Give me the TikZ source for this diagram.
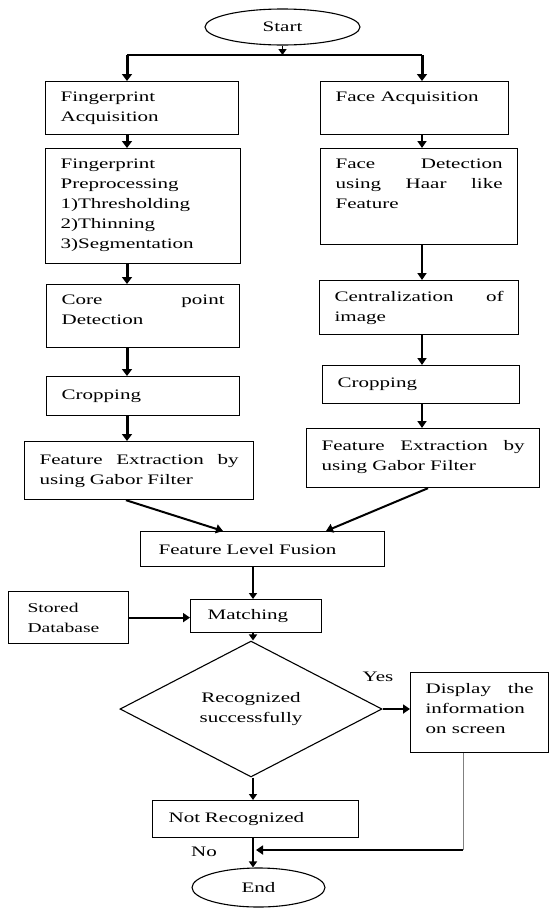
\documentclass[tikz,border=0pt]{standalone}
\usepackage{fontspec}
\setmainfont{Liberation Serif}[FakeStretch=1.45]
\usetikzlibrary{arrows.meta,shapes.geometric,calc}
\newcommand\tbx[3]{\parbox[c][\dimexpr #2pt-20pt\relax][t]{\dimexpr #1pt-30pt\relax}{#3}}
\begin{document}
\begin{tikzpicture}[x=1pt,y=-1pt,
  txt/.style={font=\fontsize{14.5}{20}\selectfont},
  tbox/.style={txt, draw, line width=1.2pt, anchor=north west, inner xsep=15pt, inner ysep=10pt},
  cbox/.style={txt, draw, line width=1.2pt, anchor=north west, inner xsep=15pt, inner ysep=0pt, align=left},
  oval/.style={txt, draw, ellipse, line width=1.1pt, inner sep=0pt},
  bigarr/.style={line width=3pt, -{Triangle[width=10pt,length=7pt]}},
  midarr/.style={line width=2pt, -{Triangle[width=9pt,length=7pt]}},
  smallarr/.style={line width=1.5pt, -{Triangle[width=8pt,length=6pt]}},
  lbl/.style={txt, inner sep=0pt}]
\useasboundingbox (0,0) rectangle (550,908);

% start
\node[oval, minimum width=155pt, minimum height=36pt] (start) at (282.5,27) {Start};
\coordinate (J) at (282.5,55);
\coordinate (JL) at (127,55);
\coordinate (JR) at (422,55);

% left column
\node[tbox] (fa) at (45,81) {\tbx{193}{53}{Fingerprint\\Acquisition}};
\node[tbox] (fp) at (45,148) {\tbx{195}{115}{Fingerprint\\Preprocessing\\1)Thresholding\\2)Thinning\\3)Segmentation}};
\node[tbox] (cp) at (46,284) {\tbx{193}{63}{Core\hfill point\\Detection}};
\node[cbox, text width=163pt, minimum height=39pt] (crl) at (46,376) {Cropping};
\node[cbox, text width=199pt, minimum height=58pt] (fel) at (24,441) {Feature\hfill Extraction\hfill by\\using Gabor Filter};

% right column
\node[tbox] (faa) at (320,81) {\tbx{188}{53}{Face Acquisition}};
\node[tbox] (fd) at (320,148) {\tbx{197}{96}{Face\hfill Detection\\using\hfill Haar\hfill like\\Feature}};
\node[tbox, inner ysep=11pt] (ci) at (319,280) {\tbx{199}{52}{Centralization\hfill of\\image}};
\node[cbox, text width=167pt, minimum height=38pt] (crr) at (322,365) {Cropping};
\node[tbox, inner ysep=12pt] (fer) at (306,428) {\tbx{233}{55}{Feature\hfill Extraction\hfill by\\using Gabor Filter}};

% fusion and matching
\node[cbox, inner xsep=18pt, text width=208pt, minimum height=35pt] (fus) at (140,531) {Feature Level Fusion};
\node[cbox, inner xsep=17pt, text width=97pt, minimum height=33pt] (mat) at (190,599) {Matching};
\node[cbox, inner xsep=19pt, text width=82pt, minimum height=52pt, font=\fontsize{13.5}{20}\selectfont] (db) at (8,591) {Stored\\Database};

% decision
\node[txt, draw, diamond, line width=1.1pt, minimum width=262pt, minimum height=102pt, inner sep=0pt, align=center] (dec) at (251,709) {Recognized\\successfully};
\node[tbox, inner ysep=11pt] (disp) at (410,672) {\tbx{138}{78}{Display\hfill the\\information\\on screen}};
\node[cbox, inner xsep=16pt, text width=174pt, minimum height=37pt] (nr) at (152,800) {Not Recognized};
\node[oval, minimum width=133pt, minimum height=39pt] (end) at (258.5,887.5) {End};

\node[lbl] (yes) at (378,677) {Yes};
\node[lbl] (no) at (204,852) {No};

% connectors
\draw[smallarr] (start.south -| J) -- (J);
\draw[line width=2pt] (JL) -- (JR);
\draw[bigarr] (JL) -- (JL |- fa.north);
\draw[bigarr] (JR) -- (JR |- faa.north);

\draw[bigarr] (fa.south -| JL) -- (fp.north -| JL);
\draw[bigarr] (fp.south -| JL) -- (cp.north -| JL);
\draw[bigarr] (cp.south -| JL) -- (crl.north -| JL);
\draw[bigarr] (crl.south -| JL) -- (fel.north -| JL);

\draw[midarr] (faa.south -| JR) -- (fd.north -| JR);
\draw[midarr] (fd.south -| JR) -- (ci.north -| JR);
\draw[midarr] (ci.south -| JR) -- (crr.north -| JR);
\draw[midarr] (crr.south -| JR) -- (fer.north -| JR);

\coordinate (FL) at (126,0);
\coordinate (FLT) at (223,0);
\coordinate (FR) at (428,0);
\coordinate (FRT) at (326,0);
\draw[midarr] (fel.south -| FL) -- (fus.north -| FLT);
\draw[midarr] (fer.south -| FR) -- (fus.north -| FRT);

\coordinate (C) at (253,0);
\draw[smallarr] (fus.south -| C) -- (mat.north -| C);
\draw[midarr] (db.east) -- (db.east -| mat.west);
\draw[smallarr] (mat.south -| C) -- (dec.north -| C);
\draw[midarr] (dec.east) -- (dec.east -| disp.west);
\draw[smallarr] (dec.south -| C) -- (nr.north -| C);
\draw[smallarr] (nr.south -| C) -- (end.north -| C);

\coordinate (K) at (463,850);
\coordinate (M) at (256,850);
\draw[gray, line width=0.7pt] (disp.south -| K) -- (K);
\draw[midarr] (K) -- (M);
\end{tikzpicture}
\end{document}
